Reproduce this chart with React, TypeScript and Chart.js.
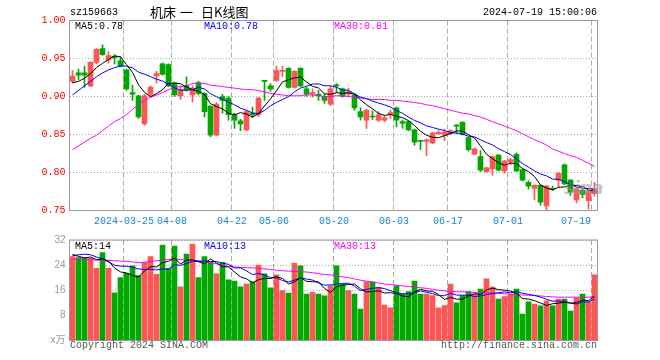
import React, { useEffect, useRef } from "react";
import { Chart, registerables } from "chart.js";

Chart.register(...registerables);

// ---------------- data ----------------
const symbol = "sz159663";
const titleParts = ["机床", "一", "日K线图"];
const timestamp = "2024-07-19 15:00:06";

const dates = [
  "2024-03-12","2024-03-13","2024-03-14","2024-03-15","2024-03-18","2024-03-19","2024-03-20","2024-03-21","2024-03-22","2024-03-25",
  "2024-03-26","2024-03-27","2024-03-28","2024-03-29","2024-04-01","2024-04-02","2024-04-03","2024-04-08","2024-04-09","2024-04-10",
  "2024-04-11","2024-04-12","2024-04-15","2024-04-16","2024-04-17","2024-04-18","2024-04-19","2024-04-22","2024-04-23","2024-04-24",
  "2024-04-25","2024-04-26","2024-04-29","2024-04-30","2024-05-06","2024-05-07","2024-05-08","2024-05-09","2024-05-10","2024-05-13",
  "2024-05-14","2024-05-15","2024-05-16","2024-05-17","2024-05-20","2024-05-21","2024-05-22","2024-05-23","2024-05-24","2024-05-27",
  "2024-05-28","2024-05-29","2024-05-30","2024-05-31","2024-06-03","2024-06-04","2024-06-05","2024-06-06","2024-06-07","2024-06-11",
  "2024-06-12","2024-06-13","2024-06-14","2024-06-17","2024-06-18","2024-06-19","2024-06-20","2024-06-21","2024-06-24","2024-06-25",
  "2024-06-26","2024-06-27","2024-06-28","2024-07-01","2024-07-02","2024-07-03","2024-07-04","2024-07-05","2024-07-08","2024-07-09",
  "2024-07-10","2024-07-11","2024-07-12","2024-07-15","2024-07-16","2024-07-17","2024-07-18","2024-07-19"
];

const opens = [
  0.920,0.931,0.931,0.914,0.945,0.963,0.948,0.953,0.947,0.935,
  0.905,0.901,0.864,0.903,0.927,0.943,0.942,0.918,0.901,0.914,
  0.902,0.918,0.904,0.887,0.849,0.900,0.898,0.876,0.868,0.856,
  0.878,0.876,0.921,0.914,0.921,0.933,0.937,0.912,0.937,0.910,
  0.903,0.903,0.900,0.890,0.915,0.910,0.903,0.902,0.880,0.869,
  0.874,0.869,0.869,0.876,0.885,0.867,0.867,0.856,0.842,0.841,
  0.839,0.851,0.849,0.851,0.862,0.866,0.846,0.824,0.821,0.801,
  0.805,0.823,0.802,0.814,0.824,0.804,0.787,0.779,0.783,0.756,
  0.779,0.790,0.810,0.790,0.764,0.777,0.763,0.772
];
const highs = [
  0.934,0.936,0.940,0.946,0.963,0.968,0.959,0.955,0.952,0.936,
  0.915,0.902,0.903,0.914,0.933,0.944,0.943,0.919,0.914,0.926,
  0.914,0.920,0.905,0.888,0.892,0.903,0.900,0.878,0.870,0.882,
  0.886,0.899,0.921,0.917,0.940,0.940,0.938,0.934,0.938,0.912,
  0.910,0.908,0.904,0.913,0.917,0.911,0.911,0.904,0.885,0.883,
  0.881,0.880,0.875,0.882,0.886,0.869,0.868,0.857,0.842,0.844,
  0.853,0.855,0.857,0.856,0.863,0.867,0.847,0.832,0.829,0.807,
  0.822,0.824,0.816,0.819,0.826,0.805,0.789,0.784,0.784,0.783,
  0.782,0.800,0.811,0.791,0.781,0.778,0.777,0.787
];
const lows = [
  0.918,0.922,0.912,0.913,0.943,0.954,0.944,0.943,0.939,0.908,
  0.895,0.871,0.862,0.900,0.918,0.928,0.913,0.900,0.896,0.907,
  0.893,0.902,0.873,0.847,0.848,0.878,0.869,0.858,0.855,0.855,
  0.872,0.873,0.895,0.907,0.920,0.926,0.911,0.911,0.913,0.900,
  0.899,0.895,0.891,0.888,0.905,0.899,0.900,0.882,0.869,0.858,
  0.870,0.867,0.867,0.871,0.860,0.858,0.855,0.836,0.830,0.822,
  0.838,0.850,0.842,0.850,0.851,0.849,0.828,0.823,0.801,0.800,
  0.796,0.802,0.799,0.810,0.801,0.789,0.778,0.764,0.757,0.751,
  0.776,0.781,0.784,0.770,0.760,0.767,0.752,0.769
];
const closes = [
  0.927,0.928,0.928,0.945,0.962,0.955,0.954,0.951,0.940,0.910,
  0.903,0.873,0.901,0.912,0.930,0.929,0.914,0.902,0.909,0.909,
  0.911,0.904,0.880,0.849,0.890,0.895,0.876,0.869,0.864,0.880,
  0.876,0.898,0.920,0.910,0.934,0.934,0.912,0.933,0.914,0.903,
  0.905,0.901,0.895,0.910,0.914,0.900,0.906,0.885,0.873,0.882,
  0.873,0.876,0.872,0.879,0.869,0.865,0.856,0.840,0.841,0.843,
  0.852,0.853,0.853,0.855,0.861,0.850,0.830,0.831,0.803,0.806,
  0.821,0.803,0.815,0.817,0.802,0.790,0.782,0.783,0.761,0.782,
  0.778,0.799,0.785,0.774,0.779,0.771,0.776,0.778
];

const priceMa5 = [
  0.918,0.920,0.924,0.930,0.938,0.9436,0.9488,0.9534,0.9524,0.942,
  0.9316,0.9154,0.9054,0.8998,0.9038,0.909,0.9172,0.9174,0.9168,0.9126,
  0.909,0.907,0.9026,0.8906,0.8868,0.8836,0.878,0.8758,0.8788,0.8768,
  0.873,0.8774,0.8876,0.8968,0.9076,0.9192,0.922,0.9246,0.9254,0.9192,
  0.9134,0.9112,0.9036,0.9028,0.905,0.904,0.905,0.903,0.8956,0.8892,
  0.8838,0.8778,0.8752,0.8764,0.8738,0.8722,0.8682,0.8618,0.8542,0.849,
  0.8464,0.8458,0.8484,0.8512,0.8548,0.8544,0.8498,0.8454,0.835,0.824,
  0.8182,0.8128,0.8096,0.8124,0.8116,0.8054,0.8012,0.7948,0.7836,0.7796,
  0.7772,0.7806,0.781,0.7836,0.783,0.7816,0.777,0.7756
];
const priceMa10 = [
  0.902,0.908,0.914,0.920,0.926,0.931,0.935,0.938,0.940,0.940,
  0.9376,0.9321,0.9294,0.9261,0.9229,0.9203,0.9163,0.9114,0.9083,0.9082,
  0.909,0.9121,0.910,0.9037,0.8997,0.8963,0.8925,0.8892,0.8847,0.8818,
  0.8783,0.8777,0.8817,0.8878,0.8922,0.8961,0.8997,0.9061,0.9111,0.9134,
  0.9163,0.9166,0.9141,0.9141,0.9121,0.9087,0.9081,0.9033,0.8992,0.8971,
  0.8939,0.8914,0.8891,0.886,0.8815,0.878,0.873,0.8685,0.8653,0.8614,
  0.8593,0.857,0.8551,0.8527,0.8519,0.8504,0.8478,0.8469,0.8431,0.8394,
  0.8363,0.8313,0.8275,0.8237,0.8178,0.8118,0.807,0.8022,0.798,0.7956,
  0.7913,0.7909,0.7879,0.7836,0.7813,0.7794,0.7788,0.7783
];
const priceMa30 = [
  0.830,0.835,0.840,0.845,0.849,0.855,0.861,0.867,0.871,0.876,
  0.883,0.890,0.895,0.899,0.902,0.905,0.909,0.912,0.913,0.914,
  0.917,0.918,0.917,0.915,0.914,0.913,0.912,0.911,0.910,0.909,
  0.909,0.908,0.906,0.904,0.903,0.902,0.901,0.901,0.901,0.902,
  0.902,0.901,0.900,0.900,0.901,0.901,0.900,0.899,0.898,0.897,
  0.896,0.896,0.896,0.895,0.895,0.894,0.893,0.892,0.891,0.889,
  0.888,0.886,0.884,0.882,0.880,0.878,0.877,0.875,0.873,0.870,
  0.867,0.864,0.861,0.858,0.855,0.851,0.847,0.843,0.840,0.836,
  0.831,0.828,0.825,0.822,0.820,0.816,0.812,0.808
];

const volumes = [
  26.7,26.4,26.4,26.2,23.0,28.0,23.0,15.2,20.0,21.4,
  23.8,20.7,24.9,26.7,21.1,30.4,23.0,30.1,17.1,27.5,
  30.7,20.0,26.7,24.9,21.2,24.9,19.3,18.9,17.1,18.0,
  18.7,24.0,21.2,16.8,20.9,15.9,15.1,24.6,23.8,14.8,
  15.3,14.8,14.2,17.4,23.8,17.9,15.9,14.8,10.0,18.7,
  18.7,16.9,11.3,10.4,17.5,14.8,15.6,18.9,14.8,14.8,
  14.3,10.4,11.1,18.0,12.0,14.3,15.6,14.8,16.4,19.6,
  17.0,13.2,14.0,14.8,16.4,8.4,12.3,11.6,11.0,12.6,
  11.0,13.2,13.2,9.4,13.6,14.8,12.2,20.9
];
const volMa5 = [
  27.4,26.8,26.3,26.6,25.74,26.0,25.32,23.08,21.84,21.52,
  20.68,20.22,22.16,23.5,23.44,24.76,25.22,26.26,24.34,25.62,
  25.68,25.08,24.4,25.96,24.7,23.54,23.4,21.84,20.28,19.64,
  18.4,19.34,19.8,19.74,20.32,19.76,17.98,18.66,20.06,18.84,
  18.72,18.66,16.58,15.3,17.1,17.62,17.84,17.96,16.48,15.46,
  15.62,15.82,15.12,15.2,14.96,14.18,13.92,15.44,16.32,15.78,
  15.68,14.64,13.08,13.72,13.16,13.16,14.2,14.94,14.62,16.14,
  16.68,16.2,16.04,15.72,15.08,13.36,13.18,12.7,11.94,11.18,
  11.7,11.88,12.2,11.88,12.08,12.84,12.64,14.18
];
const volMa10 = [
  27.0,27.3,27.5,27.3,26.6,26.0,25.0,24.0,23.7,23.63,
  23.34,22.77,22.62,22.67,22.48,22.72,22.72,24.21,23.92,24.53,
  25.22,25.15,25.33,25.15,25.16,24.61,24.24,23.12,23.12,22.17,
  20.97,21.37,20.82,20.01,19.98,19.08,18.66,19.23,19.9,19.58,
  19.24,18.32,17.62,17.68,17.97,18.17,18.25,17.27,15.89,16.28,
  16.62,16.83,16.54,15.84,15.21,14.9,14.87,15.28,15.76,15.37,
  14.93,14.28,14.26,15.02,14.47,14.42,14.42,14.01,14.17,14.65,
  14.92,15.2,15.49,15.17,15.61,15.02,14.69,14.37,13.83,13.13,
  12.53,12.53,12.45,11.91,11.63,12.27,12.26,13.19
];
const volMa30 = [
  25.8,25.8,25.7,25.7,25.6,25.5,25.5,25.4,25.3,25.2,
  25.0,24.8,24.9,25.1,25.4,25.6,25.8,25.9,25.8,25.6,
  25.5,25.4,25.2,24.8,24.4,24.0,23.6,23.4,23.3,23.2,
  23.1,23.0,22.8,22.6,22.4,22.2,22.1,22.0,21.9,21.8,
  21.6,21.3,21.0,20.9,20.6,20.3,20.0,19.6,19.2,18.9,
  18.6,18.3,18.0,17.8,17.6,17.4,17.2,17.0,16.8,16.6,
  16.3,16.0,15.8,15.6,15.5,15.5,15.4,15.3,15.2,15.2,
  15.1,15.0,14.9,14.7,14.6,14.5,14.4,14.3,14.2,14.0,
  13.9,13.8,13.8,13.8,13.8,13.8,13.8,13.8
];

const axisDates = ["2024-03-25","2024-04-08","2024-04-22","2024-05-06","2024-05-20","2024-06-03","2024-06-17","2024-07-01","2024-07-19"];
const axisLabels = ["2024-03-25","04-08","04-22","05-06","05-20","06-03","06-17","07-01","07-19"];
const priceTicks = [0.75, 0.80, 0.85, 0.90, 0.95, 1.00];
const volTicks = [0, 8, 16, 24, 32];
const priceMaLabels = ["MA5:0.78", "MA10:0.78", "MA30:0.81"];
const volMaLabels = ["MA5:14", "MA10:13", "MA30:13"];
const volUnit = "x万";
const copyright = "Copyright 2024 SINA.COM";
const siteUrl = "http://finance.sina.com.cn";

// ---------------- styles ----------------
const RED = "#ff5555";
const GREEN = "#00a800";
const MA_COLORS = ["#000000", "#0000ff", "#ff00ff"];
const GRID = "#aaaaaa";
const BOX = "#999999";
const DATE_BLUE = "#1585d8";
const MONO = '"Liberation Mono", "DejaVu Sans Mono", monospace';
const CJK = '"Noto Sans CJK SC", sans-serif';

const W = 660;
const PRICE_H = 230;
const VOL_H = 130;

function xScaleOptions(): any {
  return {
    type: "category",
    offset: true,
    grid: {
      offset: true,
      drawTicks: false,
      lineWidth: 1,
      color: (c: any) =>
        c.index !== undefined && axisDates.includes(dates[c.index]) ? GRID : "rgba(0,0,0,0)",
    },
    border: { display: false, dash: [5, 3] },
    ticks: { display: false, autoSkip: false },
    afterFit: (s: any) => {
      s.height = 0;
    },
  };
}

function lineDs(data: number[], color: string) {
  return {
    type: "line" as const,
    data,
    borderColor: color,
    borderWidth: 1,
    pointRadius: 0,
    tension: 0,
    fill: false,
    order: 0,
  };
}

export default function App() {
  const priceRef = useRef<HTMLCanvasElement>(null);
  const volRef = useRef<HTMLCanvasElement>(null);

  useEffect(() => {
    const colors = closes.map((c, i) => (c >= opens[i] ? RED : GREEN));

    const boxPlugin = {
      id: "box",
      afterDraw(chart: any) {
        const { ctx, chartArea: a } = chart;
        ctx.save();
        ctx.strokeStyle = BOX;
        ctx.lineWidth = 1;
        ctx.strokeRect(a.left, a.top, a.right - a.left, a.bottom - a.top);
        ctx.restore();
      },
    };

    const priceText = {
      id: "priceText",
      afterDraw(chart: any) {
        const { ctx } = chart;
        ctx.save();
        ctx.textBaseline = "middle";
        // header
        ctx.font = `10px ${MONO}`;
        ctx.fillStyle = "#000";
        ctx.textAlign = "left";
        ctx.fillText(symbol, 70, 12);
        ctx.textAlign = "right";
        ctx.fillText(timestamp, 597, 12);
        ctx.font = `13px ${CJK}`;
        ctx.textAlign = "left";
        const tx = [150, 180, 201];
        titleParts.forEach((t, k) => ctx.fillText(t, tx[k], 12.5));
        // MA labels
        ctx.font = `10px ${MONO}`;
        const mx = [75, 204, 334];
        priceMaLabels.forEach((t, k) => {
          ctx.fillStyle = MA_COLORS[k];
          ctx.fillText(t, mx[k], 26);
        });
        // x-axis date labels
        const xs = chart.scales.x;
        const half = (xs.getPixelForValue(1) - xs.getPixelForValue(0)) / 2;
        ctx.fillStyle = DATE_BLUE;
        axisDates.forEach((d, k) => {
          const idx = dates.indexOf(d);
          const gx = xs.getPixelForValue(idx) - half + 0.5;
          if (k === axisDates.length - 1) {
            ctx.textAlign = "right";
            ctx.fillText(axisLabels[k], 591, 221);
          } else {
            ctx.textAlign = "center";
            ctx.fillText(axisLabels[k], gx, 221);
          }
        });
        // watermark
        ctx.font = `italic bold 17px "DejaVu Sans", sans-serif`;
        ctx.fillStyle = "rgba(150,150,150,0.55)";
        ctx.textAlign = "left";
        ctx.fillText("sina", 564, 190);
        ctx.restore();
      },
    };

    const volText = {
      id: "volText",
      afterDraw(chart: any) {
        const { ctx } = chart;
        ctx.save();
        ctx.textBaseline = "middle";
        ctx.font = `10px ${MONO}`;
        ctx.textAlign = "left";
        const mx = [75, 204, 334];
        volMaLabels.forEach((t, k) => {
          ctx.fillStyle = MA_COLORS[k];
          ctx.fillText(t, mx[k], 16.7);
        });
        ctx.fillStyle = "#555";
        ctx.fillText(copyright, 70, 115.7);
        ctx.textAlign = "right";
        ctx.fillText(siteUrl, 597, 115.7);
        ctx.restore();
      },
    };

    const priceChart = new Chart(priceRef.current as HTMLCanvasElement, {
      type: "bar",
      data: {
        labels: dates,
        datasets: [
          lineDs(priceMa5, MA_COLORS[0]),
          lineDs(priceMa10, MA_COLORS[1]),
          lineDs(priceMa30, MA_COLORS[2]),
          {
            type: "bar",
            data: opens.map((o, i) => [o, closes[i]]),
            backgroundColor: colors,
            borderWidth: 0,
            barThickness: 5,
            minBarLength: 1,
            grouped: false,
            order: 1,
          } as any,
          {
            type: "bar",
            data: lows.map((l, i) => [l, highs[i]]),
            backgroundColor: colors,
            borderWidth: 0,
            barThickness: 1,
            grouped: false,
            order: 2,
          } as any,
        ],
      },
      options: {
        responsive: false,
        animation: false,
        devicePixelRatio: 1,
        layout: { padding: { top: 20.5, right: 62.5, bottom: 19.5, left: 0 } },
        plugins: { legend: { display: false }, tooltip: { enabled: false } },
        scales: {
          x: xScaleOptions(),
          y: {
            type: "linear",
            min: 0.75,
            max: 1.0,
            afterBuildTicks: (s: any) => {
              s.ticks = priceTicks.map((v) => ({ value: v }));
            },
            afterFit: (s: any) => {
              s.width = 69.5;
            },
            grid: { color: GRID, drawTicks: false, lineWidth: 1 },
            border: { display: false, dash: [1, 2] },
            ticks: {
              color: "#ff0000",
              padding: 4,
              font: { family: MONO, size: 10 },
              callback: (v: any) => Number(v).toFixed(2),
            },
          },
        },
      } as any,
      plugins: [boxPlugin, priceText],
    });

    const volChart = new Chart(volRef.current as HTMLCanvasElement, {
      type: "bar",
      data: {
        labels: dates,
        datasets: [
          lineDs(volMa5, MA_COLORS[0]),
          lineDs(volMa10, MA_COLORS[1]),
          lineDs(volMa30, MA_COLORS[2]),
          {
            type: "bar",
            data: volumes,
            backgroundColor: colors,
            borderWidth: 0,
            barThickness: 5,
            grouped: false,
            order: 1,
          } as any,
        ],
      },
      options: {
        responsive: false,
        animation: false,
        devicePixelRatio: 1,
        layout: { padding: { top: 9.5, right: 62.5, bottom: 19.5, left: 0 } },
        plugins: { legend: { display: false }, tooltip: { enabled: false } },
        scales: {
          x: xScaleOptions(),
          y: {
            type: "linear",
            min: 0,
            max: 32,
            afterBuildTicks: (s: any) => {
              s.ticks = volTicks.map((v) => ({ value: v }));
            },
            afterFit: (s: any) => {
              s.width = 69.5;
            },
            grid: { color: GRID, drawTicks: false, lineWidth: 1 },
            border: { display: false, dash: [1, 2] },
            ticks: {
              color: "#9a9a9a",
              padding: 4,
              font: { family: '"Liberation Sans", "Noto Sans CJK SC", sans-serif', size: 10 },
              callback: (v: any) => (Number(v) === 0 ? volUnit : String(v)),
            },
          },
        },
      } as any,
      plugins: [boxPlugin, volText],
    });

    return () => {
      priceChart.destroy();
      volChart.destroy();
    };
  }, []);

  return (
    <div
      style={{
        position: "fixed",
        left: 0,
        top: 0,
        width: W,
        height: PRICE_H + VOL_H,
        background: "#fff",
      }}
    >
      <canvas
        ref={priceRef}
        width={W}
        height={PRICE_H}
        style={{ position: "absolute", left: 0, top: 0, width: W, height: PRICE_H }}
      />
      <canvas
        ref={volRef}
        width={W}
        height={VOL_H}
        style={{ position: "absolute", left: 0, top: PRICE_H, width: W, height: VOL_H }}
      />
    </div>
  );
}
